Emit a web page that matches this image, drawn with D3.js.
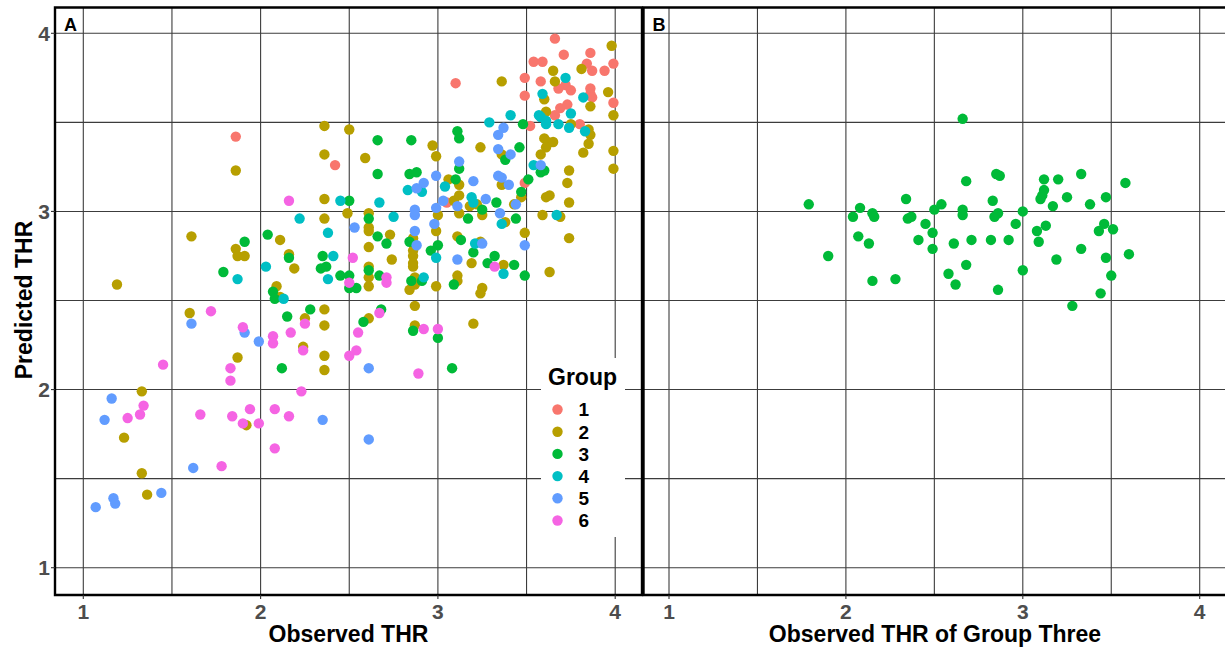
<!DOCTYPE html>
<html>
<head>
<meta charset="utf-8">
<script src="https://cdn.jsdelivr.net/npm/d3@7"></script>
<style>
  body { margin: 0; background: #fff; }
  text { font-family: "Liberation Sans", Arial, sans-serif; }
</style>
</head>
<body>
<svg id="mainsvg" width="1225" height="649"></svg>
<script>
// panel A: observed / predicted THR by group
const groups = ['1', '2', '3', '4', '5', '6'];
const colors = ['#F8766D', '#B79F00', '#00BA38', '#00BFC4', '#619CFF', '#F564E3'];

const obsA1 = [1.86,2.42,3.66,3.71,3.86,3.54,3.59,3.84,3.87,3.94,3.99,3.10,3.49,3.58,3.72,3.75,3.68,3.86,3.86,3.87,3.49,3.99,3.69,3.73,3.66,3.52,3.80,3.49,3.05];
const predA1 = [3.42,3.26,3.97,3.88,3.89,3.84,3.84,3.83,3.79,3.79,3.83,3.72,3.75,3.73,3.71,3.68,3.69,3.69,3.66,3.64,3.65,3.61,3.58,3.60,3.54,3.48,3.49,3.16,3.05];

const obsA2 = [2.36,2.50,2.36,1.86,2.36,2.36,2.49,1.61,1.86,1.87,1.91,2.11,2.16,2.19,2.09,2.11,1.19,
  1.60,2.25,2.36,2.36,2.24,1.87,2.36,2.36,1.33,1.23,1.92,1.33,1.36,
  2.61,2.87,2.87,3.20,
  3.98,3.81,3.65,3.36,3.66,3.96,3.60,3.86,3.99,3.61,3.75,3.85,3.86,3.85,3.82,3.99,3.99,2.97,3.24,3.60,3.62,3.65,3.61,3.36,3.58,3.74,3.73,3.74,3.61,3.63,3.59,3.69,3.74,3.63,3.36,3.47,3.43,3.06,3.12,3.09,3.12,3.18,3.22,3.25,3.38,3.49,3.12,3.00,2.99,2.99,3.11,3.24,3.19,3.37,3.11,3.11,3.25,3.24,2.86,2.86,2.86,2.86,2.86,2.86,2.87,2.87,2.84,2.61,2.61,2.61,2.73,2.61,2.74,2.61,2.61,2.61,2.99,2.59];
const predA2 = [3.48,3.46,3.32,3.23,3.07,2.96,2.99,2.86,2.79,2.75,2.75,2.84,2.76,2.68,2.58,2.52,2.59,
  2.43,2.40,2.45,2.36,2.24,2.18,2.19,2.11,1.99,1.73,1.80,1.53,1.41,
  2.40,2.47,2.36,2.37,
  3.93,3.80,3.79,3.73,3.73,3.67,3.63,3.59,3.54,3.56,3.49,3.46,3.43,3.38,3.33,3.34,3.24,3.37,3.36,3.41,3.39,3.39,3.36,3.32,3.32,3.23,3.16,3.05,3.08,3.09,2.98,2.97,2.85,2.66,3.15,3.08,3.04,3.18,3.15,3.06,3.09,3.03,3.04,2.98,2.94,2.88,2.99,2.98,2.89,2.58,2.86,2.83,2.71,2.70,2.64,2.61,2.57,2.54,2.85,2.82,2.78,2.75,2.71,2.69,2.63,2.59,2.56,2.99,2.91,2.89,2.87,2.80,2.73,2.69,2.63,2.58,3.31,3.30];

const obsA3 = [2.50,1.91,2.04,2.16,1.79,2.35,2.34,2.37,2.45,2.50,2.07,2.08,2.50,2.54,
  2.15,2.28,2.12,2.58,2.68,2.86,3.00,3.08,
  2.66,2.66,2.85,2.84,2.88,3.11,3.12,3.48,3.46,3.38,3.58,3.60,3.51,3.47,3.12,3.10,3.33,3.25,3.44,3.17,2.61,3.00,2.96,3.13,3.20,3.32,3.28,3.43,3.49,3.09,2.84,2.85,2.91,2.66,2.71,2.61,2.67];
const predA3 = [3.06,2.83,2.87,2.74,2.66,2.75,2.68,2.69,2.64,2.64,2.55,2.51,2.57,2.57,
  2.41,2.45,2.12,2.38,2.45,2.33,2.29,2.12,
  3.40,3.21,3.40,3.21,3.22,3.45,3.41,3.49,3.36,3.29,3.22,3.23,3.18,3.11,3.24,3.18,3.05,3.01,2.96,2.96,2.96,2.81,2.78,2.84,2.77,2.75,2.71,2.70,2.64,2.59,2.83,2.61,2.61,2.86,2.82,2.67,2.64];

const obsA4 = [2.45,2.22,2.38,2.03,1.87,2.41,2.38,2.13,
  3.72,3.59,3.82,3.41,3.29,3.57,3.58,3.61,3.75,3.61,3.68,3.74,3.83,3.54,3.67,3.04,3.19,3.20,3.36,2.99,3.21,3.37,2.92,2.83,2.91,2.75,2.67];
const predA4 = [3.06,2.96,2.88,2.69,2.62,2.75,2.62,2.51,
  3.75,3.66,3.64,3.54,3.50,3.54,3.53,3.51,3.55,3.49,3.49,3.47,3.45,3.26,2.98,3.14,3.08,3.05,2.93,2.74,2.82,2.65,2.63,3.12,3.11,2.97,3.05];

const obsA5 = [1.61,1.91,1.99,1.16,1.12,2.35,1.62,1.44,1.17,1.18,1.07,2.61,2.61,
  3.37,3.34,3.34,3.41,3.58,3.36,3.34,3.40,3.44,3.12,2.99,3.20,3.03,3.11,3.27,3.35,3.49,2.99,2.98,3.25,3.11,2.87,2.87,2.87,2.88,2.92,2.88,2.53];
const predA5 = [2.37,2.32,2.27,1.95,1.83,1.83,1.56,1.42,1.39,1.36,1.34,2.12,1.72,
  3.47,3.43,3.35,3.32,3.26,3.19,3.20,3.15,3.04,3.28,3.20,3.17,3.06,3.03,3.07,2.99,2.81,3.02,2.93,2.82,2.73,3.01,2.98,2.89,2.81,3.16,3.13,2.91];

const obsA6 = [2.16,2.52,2.50,1.72,2.25,1.90,2.07,2.07,2.17,2.24,1.83,1.83,1.45,1.25,1.32,1.34,1.66,1.84,1.94,1.90,1.99,2.08,2.16,2.23,2.08,1.78,
  2.67,2.55,2.50,2.54,2.92,3.00,2.89,3.32,2.71,2.71];
const predA6 = [3.06,2.74,2.60,2.44,2.37,2.35,2.30,2.26,2.32,2.22,2.12,2.05,2.14,1.84,1.86,1.91,1.86,1.85,1.89,1.81,1.81,1.89,1.85,1.99,1.67,1.57,
  2.43,2.32,2.19,2.22,2.34,2.34,2.09,2.69,2.63,2.60];

// panel B: group three only
const obsB = [2.66,2.68,2.85,2.87,3.12,3.20,3.33,3.58,3.12,3.11,3.10,3.25,3.47,3.17,3.38,2.83,1.79,2.08,2.34,2.54,2.50,2.66,2.66,2.15,2.16,2.04,2.37,2.35,2.86,2.84,3.00,2.45,2.49,2.96,3.13,3.08,3.09,3.46,3.43,3.51,2.07,2.13,2.41,2.61,2.71,2.82,2.92,2.49,1.90,3.33,3.19,3.47,3.60,2.68,2.58,3.00,2.15,2.28,2.62,2.86,3.50,3.44,3.28];
const predB = [3.52,3.17,3.21,3.20,3.18,3.18,3.21,3.16,3.12,3.09,3.07,3.08,3.08,3.03,3.04,3.06,3.04,3.02,3.07,3.04,3.01,3.01,2.98,2.99,2.97,2.97,2.97,2.96,2.99,2.97,3.00,2.93,2.88,2.93,2.92,2.89,2.83,2.93,2.89,2.90,2.86,2.82,2.84,2.82,2.84,2.84,2.84,2.79,2.75,2.79,2.73,2.74,2.76,2.70,2.65,2.67,2.61,2.62,2.59,2.56,2.64,2.54,2.47];

const xTicks = [1, 2, 3, 4];
const yTicks = [1, 2, 3, 4];
const gridVals = [1, 1.5, 2, 2.5, 3, 3.5, 4];

const svg = d3.select('#mainsvg');

const dataA = [];
[[obsA1, predA1], [obsA2, predA2], [obsA3, predA3], [obsA4, predA4], [obsA5, predA5], [obsA6, predA6]]
  .forEach(function(p, gi) {
    p[0].forEach(function(v, i) {
      dataA.push({ obs: v, pred: p[1][i], group: groups[gi] });
    });
  });
const dataB = obsB.map((v, i) => ({ obs: v, pred: predB[i], group: '3' }));

const color = d3.scaleOrdinal().domain(groups).range(colors);

const y = d3.scaleLinear().domain([1, 4]).range([567.7, 33.3]);
const xA = d3.scaleLinear().domain([1, 4]).range([83.3, 615.2]);
const xB = d3.scaleLinear().domain([1, 4]).range([669, 1199.7]);

const panelTop = 7.5, panelBottom = 595;

function drawPanel(x, left, right, data, label, title, titleX, closedRight) {
  const g = svg.append('g');
  const clipId = 'clip' + label;
  svg.append('clipPath').attr('id', clipId)
    .append('rect').attr('x', left).attr('y', panelTop)
    .attr('width', right - left).attr('height', panelBottom - panelTop);

  const inner = g.append('g').attr('clip-path', `url(#${clipId})`);
  inner.selectAll('.vg').data(gridVals).enter().append('line')
    .attr('x1', d => x(d)).attr('x2', d => x(d))
    .attr('y1', panelTop).attr('y2', panelBottom)
    .attr('stroke', '#3c3c3c').attr('stroke-width', 1.1);
  inner.selectAll('.hg').data(gridVals).enter().append('line')
    .attr('x1', left).attr('x2', right)
    .attr('y1', d => y(d)).attr('y2', d => y(d))
    .attr('stroke', '#3c3c3c').attr('stroke-width', 1.1);

  inner.selectAll('circle').data(data).enter().append('circle')
    .attr('cx', d => x(d.obs))
    .attr('cy', d => y(d.pred))
    .attr('r', 5.2)
    .attr('fill', d => color(d.group));

  // border
  g.append('path')
    .attr('d', closedRight
      ? `M${left},${panelTop}H${right}V${panelBottom}H${left}Z`
      : `M${right + 5},${panelTop}H${left}V${panelBottom}H${right + 5}`)
    .attr('fill', 'none').attr('stroke', '#000').attr('stroke-width', 2.4);

  // x ticks + labels
  g.selectAll('.xt').data(xTicks).enter().append('line')
    .attr('x1', d => x(d)).attr('x2', d => x(d))
    .attr('y1', panelBottom).attr('y2', panelBottom + 4)
    .attr('stroke', '#333').attr('stroke-width', 1.1);
  g.selectAll('.xl').data(xTicks).enter().append('text')
    .attr('x', d => x(d)).attr('y', 618.5)
    .attr('text-anchor', 'middle')
    .attr('font-size', 21).attr('font-weight', 'bold')
    .attr('fill', '#4d4d4d')
    .text(d => d);

  g.append('text')
    .attr('x', titleX).attr('y', 642)
    .attr('text-anchor', 'middle')
    .attr('font-size', 23).attr('font-weight', 'bold')
    .attr('fill', '#000')
    .text(title);

  g.append('text')
    .attr('x', left + 9).attr('y', 31)
    .attr('font-size', 18).attr('font-weight', 'bold')
    .text(label);
  return g;
}

drawPanel(xA, 55, 642, dataA, 'A', 'Observed THR', 348.5, true);
drawPanel(xB, 643.5, 1225, dataB, 'B', 'Observed THR of Group Three', 935, false);

// y axis (left only)
svg.selectAll('.yt').data(yTicks).enter().append('line')
  .attr('x1', 51).attr('x2', 55)
  .attr('y1', d => y(d)).attr('y2', d => y(d))
  .attr('stroke', '#333').attr('stroke-width', 1.1);
svg.selectAll('.yl').data(yTicks).enter().append('text')
  .attr('x', 50).attr('y', d => y(d))
  .attr('dy', '0.36em')
  .attr('text-anchor', 'end')
  .attr('font-size', 21).attr('font-weight', 'bold')
  .attr('fill', '#4d4d4d')
  .text(d => d);
svg.append('text')
  .attr('transform', 'translate(32,300) rotate(-90)')
  .attr('text-anchor', 'middle')
  .attr('font-size', 23).attr('font-weight', 'bold')
  .text('Predicted THR');

// legend
const legend = svg.append('g');
legend.append('rect')
  .attr('x', 541).attr('y', 358).attr('width', 84).attr('height', 179)
  .attr('fill', '#fff');
legend.append('text')
  .attr('x', 548).attr('y', 385)
  .attr('font-size', 23).attr('font-weight', 'bold')
  .text('Group');
const items = legend.selectAll('.item').data(groups).enter().append('g')
  .attr('transform', (d, i) => `translate(557.5,${409.5 + i * 22.2})`);
items.append('circle').attr('r', 5.2).attr('fill', d => color(d));
items.append('text')
  .attr('x', 21).attr('dy', '0.36em')
  .attr('font-size', 19).attr('font-weight', 'bold')
  .text(d => d);
</script>
</body>
</html>
